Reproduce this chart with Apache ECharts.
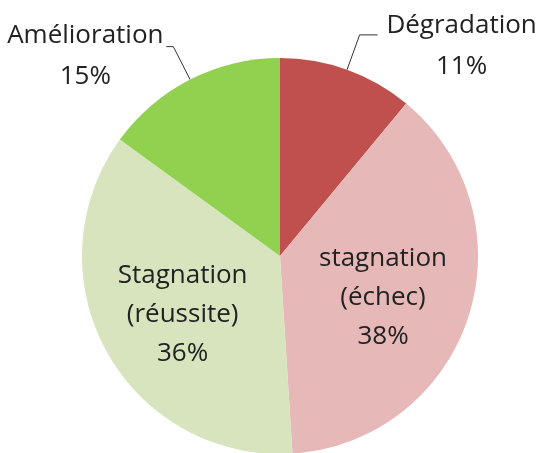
<!DOCTYPE html>
<html>
<head>
<meta charset="utf-8">
<script src="https://cdn.jsdelivr.net/npm/echarts@6/dist/echarts.min.js"></script>
<style>html,body{margin:0;padding:0;background:#fff;}#c{width:543px;height:453px;}</style>
</head>
<body>
<div id="c"></div>
<script>
const categories = ['Dégradation', 'stagnation\n(échec)', 'Stagnation\n(réussite)', 'Amélioration'];
const values = [11, 38, 36, 15];
const colors = ['#C0504D', '#E6B9B8', '#D7E4BD', '#92D050'];

const FONT = '"Open Sans"';
const FS = 26;
const outsideLabel = {
  position: 'outside',
  fontFamily: FONT, fontSize: FS, color: '#222', lineHeight: 41,
  formatter: p => '{t|' + p.name + '}\n{t|' + p.value + '%}',
  rich: { t: { fontFamily: FONT, fontSize: FS, color: '#222', lineHeight: 41, width: 162, align: 'center' } }
};
const data = categories.map((c, i) => {
  const d = { name: c, value: values[i], itemStyle: { color: colors[i] } };
  if (i === 0) {
    d.label = Object.assign({}, outsideLabel, { padding: [22, 0, 0, 0], distanceToLabelLine: 3 });
    d.labelLine = { show: true, length: 37, length2: 18, lineStyle: { color: '#333', width: 1 } };
  } else if (i === 3) {
    d.label = Object.assign({}, outsideLabel, { padding: [18, 0, 0, 0], distanceToLabelLine: 0 });
    d.labelLine = { show: true, length: 37, length2: 7, lineStyle: { color: '#333', width: 1 } };
  } else {
    d.label = {
      position: 'inside', fontFamily: FONT, fontSize: FS, color: '#222', lineHeight: 39,
      align: 'center',
      formatter: p => p.name + '\n' + p.value + '%'
    };
    d.labelLine = { show: false };
  }
  return d;
});

const chart = echarts.init(document.getElementById('c'), null, { renderer: 'canvas' });
chart.setOption({
  backgroundColor: '#fff',
  animation: false,
  series: [{
    type: 'pie',
    center: [280, 256],
    radius: [0, 198],
    startAngle: 90,
    clockwise: true,
    avoidLabelOverlap: false,
    itemStyle: { borderWidth: 0 },
    labelLayout: function (p) {
      if (p.dataIndex === 1) return { dx: 6, dy: 10 };
      if (p.dataIndex === 2) return { dx: -8, dy: 9 };
      return {};
    },
    data: data
  }]
});
</script>
</body>
</html>
